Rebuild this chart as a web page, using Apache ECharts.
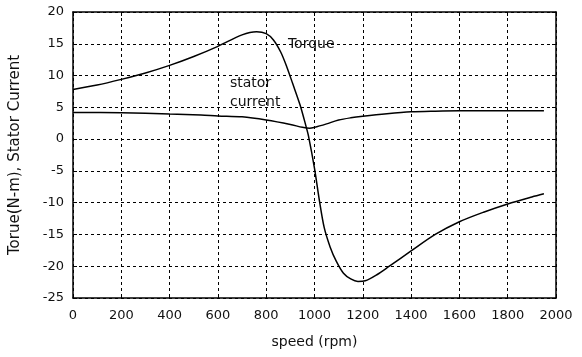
<!DOCTYPE html>
<html>
<head>
<meta charset="utf-8">
<script src="https://cdn.jsdelivr.net/npm/echarts@6/dist/echarts.min.js"></script>
<style>
  html, body { margin: 0; padding: 0; background: #fff; }
  #chart { width: 582px; height: 357px; }
</style>
</head>
<body>
<div id="chart"></div>
<script>
// Motor speed (rpm) and torque (N-m)
const torqueSpeed = [0, 100, 200, 300, 400, 500, 600, 700, 760, 800, 830, 860, 885, 910, 940, 965, 975, 1000, 1020, 1040, 1065, 1090, 1120, 1150, 1180, 1210, 1260, 1310, 1400, 1500, 1600, 1700, 1800, 1900, 1950];
const torqueValues = [7.8, 8.5, 9.4, 10.4, 11.6, 13.0, 14.6, 16.4, 16.9, 16.6, 15.6, 13.7, 11.4, 8.7, 5.4, 2.0, 0.5, -4.6, -9.6, -13.9, -17.0, -19.2, -21.1, -22.0, -22.4, -22.3, -21.3, -20.0, -17.6, -15.0, -13.0, -11.5, -10.2, -9.1, -8.6];

// Stator current over the same speed range
const currentSpeed = [0, 200, 400, 530, 600, 700, 800, 900, 950, 980, 1000, 1050, 1100, 1150, 1200, 1300, 1400, 1500, 1600, 1800, 1950];
const currentValues = [4.2, 4.15, 3.95, 3.8, 3.65, 3.5, 3.0, 2.3, 1.85, 1.7, 1.85, 2.4, 3.0, 3.35, 3.6, 4.0, 4.3, 4.4, 4.45, 4.45, 4.45];

const xTicks = { min: 0, max: 2000, interval: 200 };
const yTicks = { min: -25, max: 20, interval: 5 };

// Curve annotations, anchored in data coordinates
const torqueLabel = { text: 'Torque', at: [890, 14.9] };
const currentLabel = { text: 'stator\ncurrent', at: [650, 7.25] };

const font = 'DejaVu Sans, Liberation Sans, Arial, sans-serif';

function pairs(xs, ys) { return xs.map((x, i) => [x, ys[i]]); }

const chart = echarts.init(document.getElementById('chart'), null, { renderer: 'canvas' });

const gridLine = { show: true, lineStyle: { color: '#000', type: [3, 3], width: 1 } };
const tickIn = { show: true, inside: true, length: 4, lineStyle: { color: '#000', width: 1 } };
const frame = { show: true, onZero: false, lineStyle: { color: '#000', width: 1.5 } };

chart.setOption({
  animation: false,
  backgroundColor: '#fff',
  grid: { left: 73, right: 26, top: 12, bottom: 59 },
  xAxis: [
    {
      type: 'value', position: 'bottom',
      min: xTicks.min, max: xTicks.max, interval: xTicks.interval,
      axisLine: frame, axisTick: tickIn, splitLine: gridLine,
      axisLabel: { color: '#111', fontSize: 13, fontFamily: font, margin: 11, formatter: v => String(v) },
      name: 'speed (rpm)', nameLocation: 'middle', nameGap: 37,
      nameTextStyle: { color: '#111', fontSize: 14, fontFamily: font }
    },
    {
      type: 'value', position: 'top',
      min: xTicks.min, max: xTicks.max, interval: xTicks.interval,
      axisLine: frame, axisTick: tickIn, splitLine: { show: false },
      axisLabel: { show: false }
    }
  ],
  yAxis: [
    {
      type: 'value', position: 'left',
      min: yTicks.min, max: yTicks.max, interval: yTicks.interval,
      axisLine: frame, axisTick: tickIn, splitLine: gridLine,
      axisLabel: { color: '#111', fontSize: 13, fontFamily: font, margin: 9, formatter: v => String(v) },
      name: 'Torue(N-m), Stator Current', nameLocation: 'middle', nameGap: 50,
      nameTextStyle: { color: '#111', fontSize: 15, fontFamily: font }
    },
    {
      type: 'value', position: 'right',
      min: yTicks.min, max: yTicks.max, interval: yTicks.interval,
      axisLine: frame, axisTick: tickIn, splitLine: { show: false },
      axisLabel: { show: false }
    }
  ],
  series: [
    {
      name: 'Torque', type: 'line',
      data: pairs(torqueSpeed, torqueValues),
      smooth: 0.3, symbol: 'none',
      lineStyle: { color: '#000', width: 1.5 }
    },
    {
      name: 'stator current', type: 'line',
      data: pairs(currentSpeed, currentValues),
      smooth: 0.3, symbol: 'none',
      lineStyle: { color: '#000', width: 1.5 }
    }
  ]
});

// Place the text annotations through the grid's own coordinate conversion
function annot(lbl) {
  const p = chart.convertToPixel({ gridIndex: 0 }, lbl.at);
  return {
    type: 'text', x: p[0], y: p[1], silent: true,
    style: { text: lbl.text, fill: '#111', font: '14px ' + font, lineHeight: 19, verticalAlign: 'middle', align: 'left' }
  };
}
chart.setOption({ graphic: [annot(torqueLabel), annot(currentLabel)] });
</script>
</body>
</html>
